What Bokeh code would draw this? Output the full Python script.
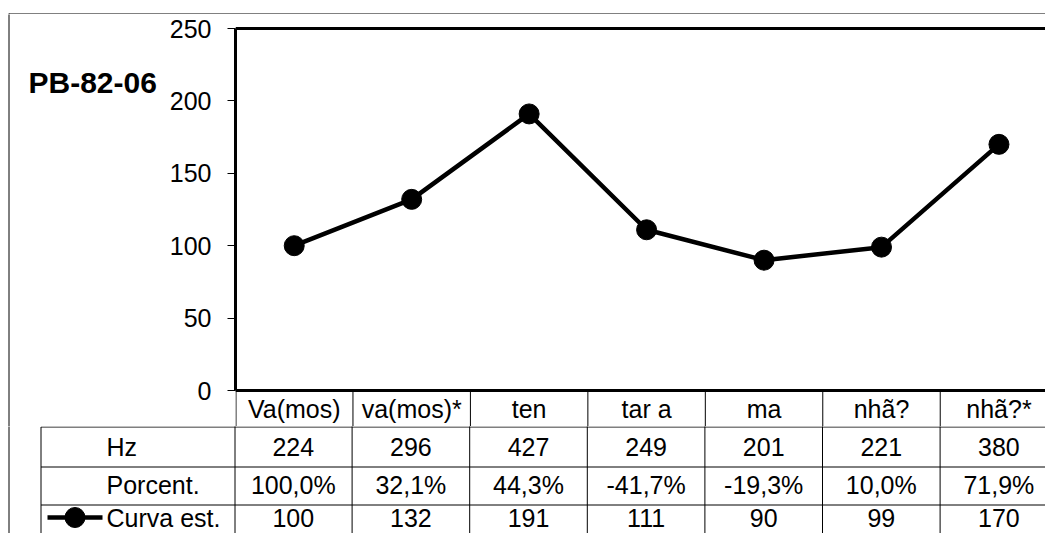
from bokeh.plotting import figure
from bokeh.layouts import column, row
from bokeh.models import Range1d, FixedTicker, Span
from bokeh.core.properties import value
from bokeh.embed import file_html
from bokeh.resources import INLINE

# ---------------- data ----------------
categories = ["Va(mos)", "va(mos)*", "ten", "tar a", "ma", "nhã?", "nhã?*"]
hz_values = [224, 296, 427, 249, 201, 221, 380]
percent_labels = ["100,0%", "32,1%", "44,3%", "-41,7%", "-19,3%", "10,0%", "71,9%"]
curve_values = [100, 132, 191, 111, 90, 99, 170]
row_names = ["Hz", "Porcent.", "Curva est."]
y_ticks = [0, 50, 100, 150, 200, 250]
chart_title = "PB-82-06"

# ---------------- layout (page pixels) ----------------
FONT = "Liberation Sans"
FS = "25px"
W, H = 1045, 533
STRIP_H = 14                 # top strip holding the outer border line
TOP_B = 426                  # bottom of chart block / top of table body
LEFT_W = 166                 # left block width (title)
FRAME_L = 234                # plot-area left edge
Y0_PX, YTOP_PX = 390, 28     # pixel rows of y=0 and y=250
COL_W = 117.6
PX_PER_Y = (Y0_PX - YTOP_PX) / float(y_ticks[-1])
BORDER_X, BORDER_Y = 8.5, 13.5
TABLE_L = 40.5
ROW_LINES = [426.5, 466.5, 504.5]
HEADER_Y = 408
ROW_CENTERS = [446, 484, 517]
NAME_X = 106
KEY_L, KEY_R = 47, 102

def dx(px):
    return -0.5 + (px - FRAME_L) / COL_W

def dy(py):
    return (Y0_PX - py) / PX_PER_Y

def bare(fig):
    fig.grid.grid_line_color = None
    fig.outline_line_color = None
    fig.background_fill_color = "white"
    fig.border_fill_color = "white"
    return fig

n = len(categories)
xs = list(range(n))
sep_x = [k - 0.5 for k in range(1, n + 1)]

# ---------- strip with the outer top border ----------
strip = bare(figure(width=W, height=STRIP_H, output_backend="svg", toolbar_location=None,
                    x_range=Range1d(0, W), y_range=Range1d(STRIP_H, 0),
                    x_axis_location=None, y_axis_location=None,
                    min_border_left=0, min_border_right=0, min_border_top=0, min_border_bottom=0))
strip.segment(x0=[BORDER_X], y0=[BORDER_Y], x1=[W + 5], y1=[BORDER_Y], line_color="black", line_width=1)
strip.segment(x0=[BORDER_X], y0=[BORDER_Y - 0.5], x1=[BORDER_X], y1=[STRIP_H + 1], line_color="black", line_width=1)

# ---------- left block with the title ----------
left = bare(figure(width=LEFT_W, height=TOP_B - STRIP_H, output_backend="svg", toolbar_location=None,
                   x_range=Range1d(0, LEFT_W), y_range=Range1d(TOP_B, STRIP_H),
                   x_axis_location=None, y_axis_location=None,
                   min_border_left=0, min_border_right=0, min_border_top=0, min_border_bottom=0))
left.segment(x0=[BORDER_X], y0=[STRIP_H - 1], x1=[BORDER_X], y1=[TOP_B + 1], line_color="black", line_width=1)
left.text(x=[28], y=[82], text=[chart_title], text_align="left", text_baseline="middle",
          text_font=value(FONT), text_font_size="30px", text_font_style="bold", text_color="black")

# ---------- main chart ----------
p = bare(figure(width=W - LEFT_W, height=TOP_B - STRIP_H, output_backend="svg", toolbar_location=None,
                x_range=Range1d(dx(FRAME_L), dx(W)),
                y_range=Range1d(dy(TOP_B), dy(STRIP_H)),
                x_axis_location=None,
                min_border_left=FRAME_L - LEFT_W, min_border_right=0,
                min_border_top=0, min_border_bottom=0))
ax = p.yaxis[0]
ax.ticker = FixedTicker(ticks=y_ticks)
ax.bounds = (y_ticks[0], y_ticks[-1])
ax.axis_line_width = 3
ax.axis_line_color = "black"
ax.major_tick_out = 8
ax.major_tick_in = 0
ax.major_tick_line_width = 1
ax.major_tick_line_color = "black"
ax.minor_tick_line_color = None
ax.major_label_standoff = 16
ax.major_label_text_font = FONT
ax.major_label_text_font_size = FS
ax.major_label_text_color = "black"

p.add_layout(Span(location=y_ticks[0], dimension="width", line_width=3, line_color="black"))
p.add_layout(Span(location=y_ticks[-1], dimension="width", line_width=3, line_color="black"))

# header-row cell borders
p.segment(x0=[dx(FRAME_L + 0.5)] + sep_x, y0=[0] * (n + 1),
          x1=[dx(FRAME_L + 0.5)] + sep_x, y1=[dy(TOP_B + 5)] * (n + 1),
          line_color="black", line_width=1)

line_r = p.line(xs, curve_values, line_width=4.5, line_color="black")
pts_r = p.scatter(xs, curve_values, size=20, fill_color="black", line_color="black")

p.text(x=xs, y=[dy(HEADER_Y)] * n, text=categories, text_align="center", text_baseline="middle",
       text_font=value(FONT), text_font_size=FS, text_color="black")

# ---------- table body ----------
t = bare(figure(width=W, height=H - TOP_B, output_backend="svg", toolbar_location=None,
                x_range=Range1d(dx(0), dx(W)), y_range=Range1d(H, TOP_B),
                x_axis_location=None, y_axis_location=None,
                min_border_left=0, min_border_right=0, min_border_top=0, min_border_bottom=0))
# outer border
t.segment(x0=[dx(BORDER_X)], y0=[TOP_B - 1], x1=[dx(BORDER_X)], y1=[H + 1], line_color="black", line_width=1)
# horizontal row lines
t.segment(x0=[dx(TABLE_L)] * 3, y0=ROW_LINES, x1=[dx(W + 5)] * 3, y1=ROW_LINES,
          line_color="black", line_width=1)
# vertical lines
t.segment(x0=[dx(TABLE_L), dx(FRAME_L + 0.5)] + sep_x, y0=[ROW_LINES[0]] + [TOP_B - 1] * (n + 1),
          x1=[dx(TABLE_L), dx(FRAME_L + 0.5)] + sep_x, y1=[H + 1] * (n + 2),
          line_color="black", line_width=1)

body_rows = [[str(v) for v in hz_values], percent_labels, [str(v) for v in curve_values]]
for yc, texts in zip(ROW_CENTERS, body_rows):
    t.text(x=xs, y=[yc] * n, text=texts, text_align="center", text_baseline="middle",
           text_font=value(FONT), text_font_size=FS, text_color="black")

t.text(x=[dx(NAME_X)] * 3, y=ROW_CENTERS, text=row_names, text_align="left", text_baseline="middle",
       text_font=value(FONT), text_font_size=FS, text_color="black")

# legend key of the series
t.line(x=[dx(KEY_L), dx(KEY_R)], y=[ROW_CENTERS[2]] * 2, line_width=4.5, line_color="black")
t.scatter(x=[dx((KEY_L + KEY_R) / 2)], y=[ROW_CENTERS[2]], size=20, fill_color="black", line_color="black")

layout = column(strip, row(left, p), t)
open("out.html", "w").write(file_html(layout, INLINE))
